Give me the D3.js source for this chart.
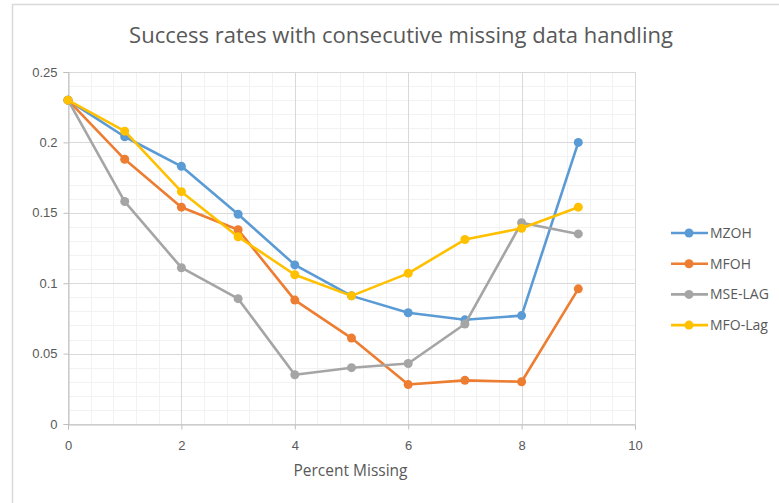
<!DOCTYPE html>
<html>
<head>
<meta charset="utf-8">
<script src="https://cdn.jsdelivr.net/npm/d3@7"></script>
<style>
  body { margin: 0; background: #fff; }
  svg { display: block; font-family: "Open Sans", "Liberation Sans", sans-serif; }
</style>
</head>
<body>
<div id="chart"></div>
<script>
const xValues = [0, 1, 2, 3, 4, 5, 6, 7, 8, 9];
const seriesNames = ["MZOH", "MFOH", "MSE-LAG", "MFO-Lag"];
const mzoh = [0.23, 0.204, 0.183, 0.149, 0.113, 0.091, 0.079, 0.074, 0.077, 0.2];
const mfoh = [0.23, 0.188, 0.154, 0.138, 0.088, 0.061, 0.028, 0.031, 0.030, 0.096];
const mseLag = [0.23, 0.158, 0.111, 0.089, 0.035, 0.040, 0.043, 0.071, 0.143, 0.135];
const mfoLag = [0.23, 0.208, 0.165, 0.133, 0.106, 0.091, 0.107, 0.131, 0.139, 0.154];
const xTicks = [0, 2, 4, 6, 8, 10];
const yTicks = [0, 0.05, 0.1, 0.15, 0.2, 0.25];

const colors = ["#5B9BD5", "#ED7D31", "#A5A5A5", "#FFC000"];
const seriesValues = [mzoh, mfoh, mseLag, mfoLag];

const width = 779;
const height = 503;
const margin = { top: 72, right: 144, bottom: 79, left: 68 };
const textColor = "#595959";

const x = d3.scaleLinear().domain([0, 10]).range([margin.left, width - margin.right]);
const y = d3.scaleLinear().domain([0, 0.25]).range([height - margin.bottom, margin.top]);

const svg = d3.select("#chart")
  .append("svg")
  .attr("width", width)
  .attr("height", height);

// chart border (cut off at right/bottom like the screenshot)
svg.append("path")
  .attr("d", `M12.5,${height} V4.5 H${width}`)
  .attr("fill", "none")
  .attr("stroke", "#d9d9d9")
  .attr("stroke-width", 1.5);

svg.append("text")
  .attr("x", 401)
  .attr("y", 43)
  .attr("text-anchor", "middle")
  .attr("font-size", 22)
  .attr("fill", textColor)
  .text("Success rates with consecutive missing data handling");

// minor gridlines
const xMinor = d3.range(0, 10.001, 0.4);
const yMinor = d3.range(0, 0.2501, 0.01);

svg.append("g")
  .selectAll("line")
  .data(xMinor)
  .join("line")
  .attr("x1", (d) => Math.round(x(d)) + 0.5)
  .attr("x2", (d) => Math.round(x(d)) + 0.5)
  .attr("y1", y(0))
  .attr("y2", y(0.25))
  .attr("stroke", "#f2f2f2");

svg.append("g")
  .selectAll("line")
  .data(yMinor)
  .join("line")
  .attr("x1", x(0))
  .attr("x2", x(10))
  .attr("y1", (d) => Math.round(y(d)) + 0.5)
  .attr("y2", (d) => Math.round(y(d)) + 0.5)
  .attr("stroke", "#f2f2f2");

// major gridlines
svg.append("g")
  .selectAll("line")
  .data(xTicks)
  .join("line")
  .attr("x1", (d) => Math.round(x(d)) + 0.5)
  .attr("x2", (d) => Math.round(x(d)) + 0.5)
  .attr("y1", y(0))
  .attr("y2", y(0.25))
  .attr("stroke", "#d9d9d9");

svg.append("g")
  .selectAll("line")
  .data(yTicks)
  .join("line")
  .attr("x1", x(0))
  .attr("x2", x(10))
  .attr("y1", (d) => Math.round(y(d)) + 0.5)
  .attr("y2", (d) => Math.round(y(d)) + 0.5)
  .attr("stroke", "#d9d9d9");

// axes
const xAxis = svg.append("g")
  .attr("transform", `translate(0, ${Math.round(y(0)) + 0.5})`)
  .call(d3.axisBottom(x).tickValues(xTicks).tickSize(5).tickPadding(11).tickFormat(d3.format("d")));

const yAxis = svg.append("g")
  .attr("transform", `translate(${Math.round(x(0)) + 0.5}, 0)`)
  .call(d3.axisLeft(y).tickValues(yTicks).tickSize(5).tickPadding(6).tickFormat((d) => (d === 0 ? "0" : String(+d.toFixed(2)))));

[xAxis, yAxis].forEach((g) => {
  g.select(".domain").attr("stroke", "#bfbfbf");
  g.selectAll(".tick line").attr("stroke", "#bfbfbf");
  g.selectAll(".tick text")
    .attr("fill", textColor)
    .attr("font-size", 13);
});

svg.append("text")
  .attr("x", x(5) - 1)
  .attr("y", 476)
  .attr("text-anchor", "middle")
  .attr("font-size", 15.5)
  .attr("fill", textColor)
  .text("Percent Missing");

// series
const line = d3.line()
  .x((d, i) => x(xValues[i]))
  .y((d) => y(d));

seriesValues.forEach((vals, s) => {
  const g = svg.append("g");
  g.append("path")
    .attr("d", line(vals))
    .attr("fill", "none")
    .attr("stroke", colors[s])
    .attr("stroke-width", 2.6)
    .attr("stroke-linejoin", "round");
  g.selectAll("circle")
    .data(vals)
    .join("circle")
    .attr("cx", (d, i) => x(xValues[i]))
    .attr("cy", (d) => y(d))
    .attr("r", 4.5)
    .attr("fill", colors[s]);
});

// legend
const legend = svg.append("g").attr("transform", "translate(671, 233)");
seriesNames.forEach((name, i) => {
  const g = legend.append("g").attr("transform", `translate(0, ${i * 30.7})`);
  g.append("line")
    .attr("x1", 0)
    .attr("x2", 37)
    .attr("stroke", colors[i])
    .attr("stroke-width", 2.6);
  g.append("circle")
    .attr("cx", 18)
    .attr("r", 4.5)
    .attr("fill", colors[i]);
  g.append("text")
    .attr("x", 39)
    .attr("dy", "0.35em")
    .attr("font-size", 14)
    .attr("fill", textColor)
    .text(name);
});
</script>
</body>
</html>
